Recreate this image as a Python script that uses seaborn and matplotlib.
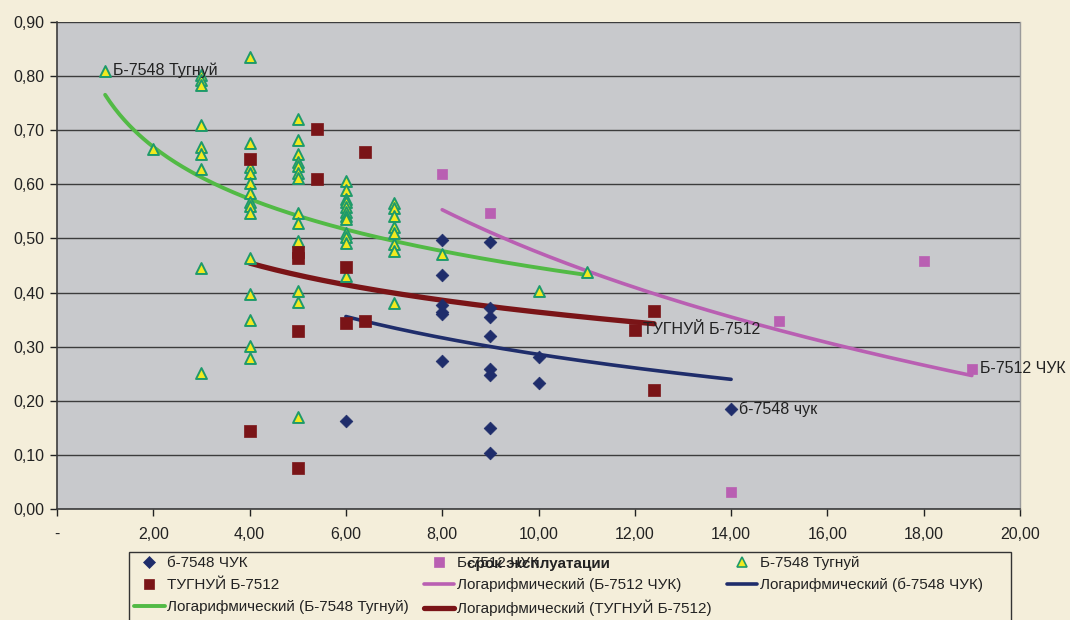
import numpy as np
import pandas as pd
import matplotlib
matplotlib.use("Agg")
import matplotlib.pyplot as plt
from matplotlib.lines import Line2D
from matplotlib.patches import Rectangle
import seaborn as sns

# --- data -------------------------------------------------------------
chuk7548_x = [8, 8, 8, 8, 8, 8, 9, 9, 9, 9, 9, 9, 9, 9, 10, 10, 6, 14]
chuk7548_y = [0.497, 0.433, 0.377, 0.364, 0.361, 0.273,
              0.494, 0.371, 0.354, 0.320, 0.259, 0.247, 0.150, 0.104,
              0.281, 0.233, 0.163, 0.185]

chuk7512_x = [8, 9, 14, 15, 18, 19]
chuk7512_y = [0.620, 0.547, 0.031, 0.347, 0.458, 0.259]

tugnuy7548_x = [1, 2,
                3, 3, 3, 3, 3, 3, 3, 3, 3,
                4, 4, 4, 4, 4, 4, 4, 4, 4, 4, 4, 4, 4, 4,
                5, 5, 5, 5, 5, 5, 5, 5, 5, 5, 5, 5, 5,
                6, 6, 6, 6, 6, 6, 6, 6, 6, 6, 6, 6,
                7, 7, 7, 7, 7, 7, 7, 7,
                8, 10, 11]
tugnuy7548_y = [0.810, 0.665,
                0.802, 0.793, 0.784, 0.710, 0.669, 0.656, 0.628, 0.445, 0.251,
                0.835, 0.677, 0.632, 0.621, 0.602, 0.584, 0.568, 0.560, 0.547,
                0.464, 0.397, 0.349, 0.301, 0.279,
                0.721, 0.682, 0.656, 0.641, 0.634, 0.621, 0.612, 0.547, 0.529,
                0.495, 0.403, 0.383, 0.170,
                0.606, 0.590, 0.573, 0.568, 0.558, 0.549, 0.542, 0.536, 0.510,
                0.502, 0.492, 0.431,
                0.566, 0.556, 0.542, 0.521, 0.510, 0.490, 0.477, 0.381,
                0.471, 0.403, 0.438]

tugnuy7512_x = [4, 4, 5.4, 5.4, 6.4, 5, 5, 5, 5, 6, 6, 6.4, 12, 12.4, 12.4]
tugnuy7512_y = [0.647, 0.144, 0.702, 0.610, 0.660, 0.475, 0.464, 0.329, 0.076,
                0.447, 0.344, 0.348, 0.331, 0.366, 0.220]

series_names = ["б-7548 ЧУК", "Б-7512 ЧУК", "Б-7548 Тугнуй", "ТУГНУЙ Б-7512"]
point_labels = ["б-7548 чук", "Б-7512 ЧУК", "Б-7548 Тугнуй", "ТУГНУЙ Б-7512"]
label_points = [(14, 0.185), (19, 0.259), (1, 0.810), (12, 0.331)]

x_ticks = [0, 2, 4, 6, 8, 10, 12, 14, 16, 18, 20]
y_ticks = [0.0, 0.1, 0.2, 0.3, 0.4, 0.5, 0.6, 0.7, 0.8, 0.9]

# --- styling ----------------------------------------------------------
BG = "#F4EEDA"
PLOT_BG = "#C8C9CC"
NAVY = "#1F2D6B"
PINK = "#B95FB2"
GREEN = "#52BA45"
DARKRED = "#7A1417"
TEXT = "#222222"

sns.set_theme(style="white")
plt.rcParams["font.family"] = ["Liberation Sans", "DejaVu Sans"]

W, H = 1070, 620
fig = plt.figure(figsize=(W / 100, H / 100), dpi=100, facecolor=BG)
ax = fig.add_axes([57 / W, (H - 509) / H, 963 / W, 487 / H])
ax.set_facecolor(PLOT_BG)

frames = {
    series_names[0]: (chuk7548_x, chuk7548_y),
    series_names[1]: (chuk7512_x, chuk7512_y),
    series_names[2]: (tugnuy7548_x, tugnuy7548_y),
    series_names[3]: (tugnuy7512_x, tugnuy7512_y),
}
styles = {
    series_names[0]: dict(marker="D", s=42, color=NAVY, edgecolor=NAVY, linewidth=0.5),
    series_names[1]: dict(marker="s", s=60, color=PINK, edgecolor=PINK, linewidth=0.5),
    series_names[2]: dict(marker="^", s=62, color="#F2EA1E", edgecolor="#1E9A6A", linewidth=1.4),
    series_names[3]: dict(marker="s", s=70, color=DARKRED, edgecolor=DARKRED, linewidth=0.5),
}
trend_colors = {
    series_names[0]: (NAVY, 2.6),
    series_names[1]: (PINK, 2.6),
    series_names[2]: (GREEN, 2.8),
    series_names[3]: (DARKRED, 3.8),
}

# logarithmic trend lines y = a + b*ln(x), drawn over the range of each series
for name, (xs, ys) in frames.items():
    xs = np.asarray(xs, float)
    ys = np.asarray(ys, float)
    b, a = np.polyfit(np.log(xs), ys, 1)
    xx = np.linspace(xs.min(), xs.max(), 200)
    trend = pd.DataFrame({"x": xx, "y": a + b * np.log(xx)})
    col, lw = trend_colors[name]
    sns.lineplot(data=trend, x="x", y="y", ax=ax, color=col, linewidth=lw,
                 zorder=2, legend=False)

for name, (xs, ys) in frames.items():
    df = pd.DataFrame({"x": xs, "y": ys})
    sns.scatterplot(data=df, x="x", y="y", ax=ax, zorder=3, legend=False,
                    **styles[name])

for text, (px, py) in zip(point_labels, label_points):
    ax.annotate(text, (px, py), xytext=(6, 0), textcoords="offset points",
                va="center", ha="left", fontsize=11.5, color=TEXT, zorder=4)

# axes
ax.set_xlim(0, 20)
ax.set_ylim(0, 0.9)
ax.set_xticks(x_ticks)
ax.set_xticklabels(["-"] + [f"{v:.2f}".replace(".", ",") for v in x_ticks[1:]])
ax.set_yticks(y_ticks)
ax.set_yticklabels([f"{v:.2f}".replace(".", ",") for v in y_ticks])
ax.tick_params(axis="both", labelsize=11.5, colors=TEXT, length=5,
               width=1, direction="out", bottom=True, left=True, pad=4)
ax.tick_params(axis="x", pad=8)
ax.yaxis.grid(True, color="#3C3C3C", linewidth=1)
ax.xaxis.grid(False)
ax.set_axisbelow(True)
for side in ["left", "bottom"]:
    ax.spines[side].set_color("#3C3C3C")
    ax.spines[side].set_linewidth(1.2)
ax.spines["top"].set_visible(False)
ax.spines["right"].set_color("#9A9A9A")
ax.spines["right"].set_linewidth(1)

ax.set_ylabel("")
ax.set_xlabel("срок эксплуатации", fontsize=11, fontweight="bold", color=TEXT)
ax.xaxis.label.set_va("center")
ax.xaxis.set_label_coords(0.5, -55 / 487)

# legend box (outline only, runs past the lower edge of the figure)
fig.patches.append(Rectangle((129 / W, -0.05), (1011 - 129) / W, 0.05 + (H - 552) / H,
                             transform=fig.transFigure, facecolor="none",
                             edgecolor="#333333", linewidth=1, zorder=1))

def mk(marker, face, edge, ms, mew=0.5):
    return Line2D([], [], linestyle="none", marker=marker, markersize=ms,
                  markerfacecolor=face, markeredgecolor=edge, markeredgewidth=mew)

def ln(color, lw):
    return Line2D([], [], color=color, linewidth=lw)

h_pts = [mk("D", NAVY, NAVY, 6), mk("s", PINK, PINK, 7),
         mk("^", "#F2EA1E", "#1E9A6A", 7, 1.2), mk("s", DARKRED, DARKRED, 7)]
h_lin = {n: ln(*trend_colors[n]) for n in series_names}
log_lbl = {n: f"Логарифмический ({n})" for n in series_names}

# three columns, filled row by row
handles = [h_pts[0], h_pts[3], h_lin[series_names[2]],
           h_pts[1], h_lin[series_names[1]], h_lin[series_names[3]],
           h_pts[2], h_lin[series_names[0]]]
labels = [series_names[0], series_names[3], log_lbl[series_names[2]],
          series_names[1], log_lbl[series_names[1]], log_lbl[series_names[3]],
          series_names[2], log_lbl[series_names[0]]]

leg = fig.legend(handles, labels, ncol=3, loc="upper left",
                 bbox_to_anchor=(131 / W, 1 - 553 / H),
                 bbox_transform=fig.transFigure, fontsize=11,
                 frameon=False, borderpad=0.2, labelspacing=0.52,
                 handlelength=2.0, handletextpad=0.15, columnspacing=1.0,
                 borderaxespad=0)
for t in leg.get_texts():
    t.set_color(TEXT)

fig.savefig("out.png", dpi=100, facecolor=BG)
